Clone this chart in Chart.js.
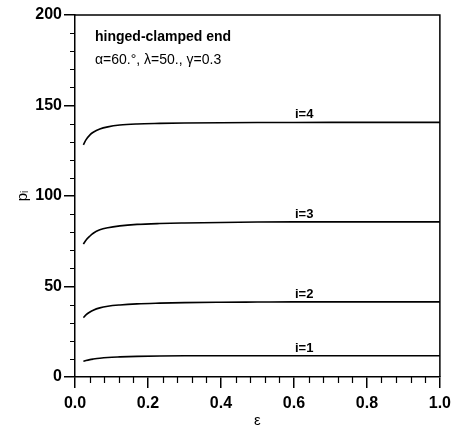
<!DOCTYPE html>
<html>
<head>
<meta charset="utf-8">
<script src="https://cdn.jsdelivr.net/npm/chart.js@4.4.0/dist/chart.umd.min.js"></script>
<style>
  html, body { margin: 0; padding: 0; background: #fff; }
  #wrap { width: 457px; height: 425px; }
</style>
</head>
<body>
<div id="wrap"><canvas id="chart" width="457" height="425"></canvas></div>
<script>
// epsilon values where the curves were read
const eps = [0.023, 0.03, 0.041, 0.05, 0.068, 0.09, 0.123, 0.17, 0.232, 0.3, 0.4, 0.5, 0.6, 0.8, 1.0];

// p_i for each mode
const p1 = [8.7, 9.1, 9.6, 9.9, 10.4, 10.8, 11.1, 11.4, 11.6, 11.7, 11.7, 11.7, 11.7, 11.7, 11.7];
const p2 = [32.8, 34.3, 35.9, 36.9, 38.2, 39.1, 39.8, 40.4, 40.8, 41.1, 41.3, 41.4, 41.5, 41.5, 41.5];
const p3 = [73.4, 75.6, 77.9, 79.4, 81.3, 82.5, 83.5, 84.3, 84.8, 85.1, 85.4, 85.6, 85.7, 85.7, 85.7];
const p4 = [128.2, 131.0, 133.8, 135.2, 137.0, 138.2, 139.2, 139.8, 140.1, 140.3, 140.5, 140.6, 140.6, 140.7, 140.7];

const seriesNames = ['i=1', 'i=2', 'i=3', 'i=4'];
const series = [p1, p2, p3, p4];
const labelEps = 0.628;

const yTicks = [0, 50, 100, 150, 200];
const xTicks = [0.0, 0.2, 0.4, 0.6, 0.8, 1.0];

const FONT = "'Liberation Sans', Arial, sans-serif";

const datasets = series.map((vals, k) => ({
    label: seriesNames[k],
    data: eps.map((e, j) => ({ x: e, y: vals[j] })),
    borderColor: '#000',
    borderWidth: 1.6,
    pointRadius: 0,
    fill: false,
    cubicInterpolationMode: 'monotone'
}));

// frame, minor ticks and text labels
const extras = {
    id: 'extras',
    afterDraw(chart) {
        const { ctx, chartArea: a, scales: { x, y } } = chart;
        ctx.save();
        ctx.strokeStyle = '#000';
        ctx.lineWidth = 1.5;
        ctx.beginPath();
        ctx.moveTo(a.left, a.top);
        ctx.lineTo(a.right, a.top);
        ctx.lineTo(a.right, a.bottom);
        ctx.stroke();

        // minor ticks
        ctx.lineWidth = 1.2;
        ctx.beginPath();
        for (let v = 10; v < 200; v += 10) {
            if (v % 50 === 0) continue;
            const py = Math.round(y.getPixelForValue(v)) + 0.5;
            ctx.moveTo(a.left - 5, py);
            ctx.lineTo(a.left, py);
        }
        for (let k = 1; k < 25; k++) {
            if (k % 5 === 0) continue;
            const px = Math.round(x.getPixelForValue(k * 0.04)) + 0.5;
            ctx.moveTo(px, a.bottom);
            ctx.lineTo(px, a.bottom + 6);
        }
        ctx.stroke();

        // curve labels
        ctx.fillStyle = '#000';
        ctx.font = 'bold 13px ' + FONT;
        ctx.textAlign = 'center';
        ctx.textBaseline = 'bottom';
        series.forEach((vals, k) => {
            ctx.fillText(seriesNames[k], x.getPixelForValue(labelEps), y.getPixelForValue(vals[vals.length - 1]) - 1);
        });

        // annotation
        ctx.textAlign = 'left';
        ctx.textBaseline = 'middle';
        ctx.font = 'bold 14px ' + FONT;
        ctx.fillText('hinged-clamped end', a.left + 20, a.top + 22);
        ctx.font = '14px ' + FONT;
        ctx.fillText('\u03b1=60.\u00b0, \u03bb=50., \u03b3=0.3', a.left + 20, a.top + 45);
        ctx.restore();
    }
};

new Chart(document.getElementById('chart'), {
    type: 'line',
    data: { datasets },
    options: {
        responsive: false,
        animation: false,
        layout: { padding: { top: 15, right: 16, left: 0, bottom: 0 } },
        plugins: { legend: { display: false }, tooltip: { enabled: false } },
        scales: {
            x: {
                type: 'linear',
                min: 0,
                max: 1,
                afterBuildTicks: s => { s.ticks = xTicks.map(v => ({ value: v })); },
                afterFit: s => { s.height = 48; },
                ticks: {
                    color: '#000',
                    font: { family: FONT, size: 16, weight: 'bold' },
                    padding: 6,
                    maxRotation: 0,
                    callback: v => v.toFixed(1)
                },
                grid: { drawOnChartArea: false, color: '#000', lineWidth: 1.5, tickLength: 11 },
                border: { display: true, color: '#000', width: 1.5 },
                title: { display: true, text: '\u03b5', color: '#000', font: { family: FONT, size: 15, lineHeight: 0.6 }, padding: 0 }
            },
            y: {
                min: 0,
                max: 200,
                afterBuildTicks: s => { s.ticks = yTicks.map(v => ({ value: v })); },
                afterFit: s => { s.width = 75; },
                ticks: {
                    color: '#000',
                    font: { family: FONT, size: 16, weight: 'bold' },
                    padding: 2
                },
                grid: { drawOnChartArea: false, color: '#000', lineWidth: 1.5, tickLength: 11 },
                border: { display: true, color: '#000', width: 1.5 },
                title: { display: true, text: 'p\u1d62', color: '#000', font: { family: FONT, size: 15 }, padding: { top: 14 } }
            }
        }
    },
    plugins: [extras]
});
</script>
</body>
</html>
